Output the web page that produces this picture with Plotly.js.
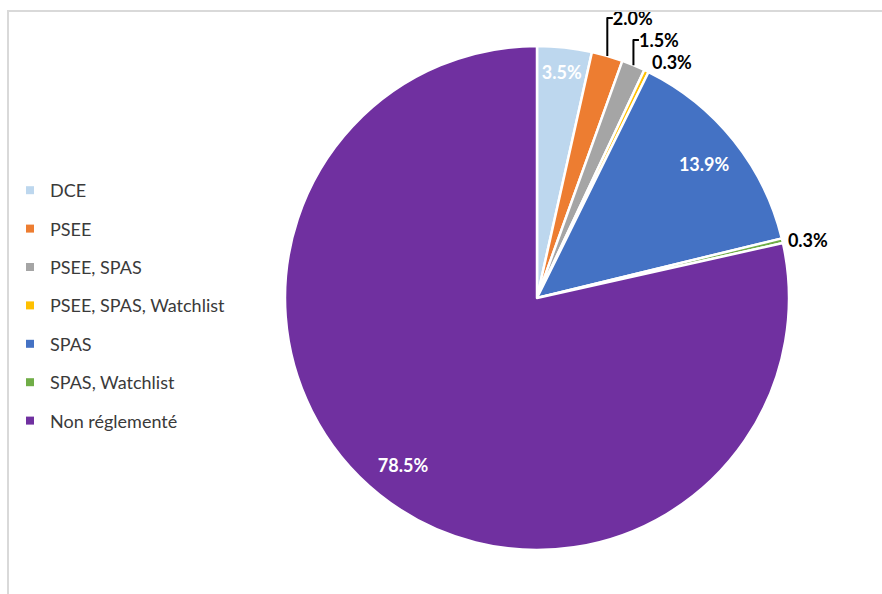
<!DOCTYPE html>
<html>
<head>
<meta charset="utf-8">
<script src="https://cdn.plot.ly/plotly-3.0.1.min.js"></script>
<style>
  html, body { margin: 0; padding: 0; background: #fff; }
  #wrap { position: relative; width: 882px; height: 594px; overflow: hidden; }
  #chart { position: absolute; left: 0; top: 0; width: 882px; height: 594px; }
  #frame { position: absolute; left: 7px; top: 10px; width: 900px; height: 700px;
           border-left: 2px solid #d9d9d9; border-top: 2px solid #d9d9d9; pointer-events: none; }
</style>
</head>
<body>
<div id="wrap">
  <div id="chart"></div>
  <div id="frame"></div>
</div>
<script>
const categories = ["DCE", "PSEE", "PSEE, SPAS", "PSEE, SPAS, Watchlist", "SPAS", "SPAS, Watchlist", "Non réglementé"];
const shares = [3.5, 2.0, 1.5, 0.3, 13.9, 0.3, 78.5];
const sliceColors = ["#BDD7EE", "#ED7D31", "#A5A5A5", "#FFC000", "#4472C4", "#70AD47", "#7030A0"];
const outsideLabels = ["none", "outside", "outside", "outside", "none", "outside", "none"];
const insideLabels = ["inside", "none", "none", "none", "inside", "none", "inside"];

const W = 882, H = 594;
const cx = 537, cy = 298, R = 252;
const dom = { x: [(cx - R) / W, (cx + R) / W], y: [1 - (cy + R) / H, 1 - (cy - R) / H] };
const labelFont = { family: "Lato", size: 18, weight: 700 };

// visible pie with the outside labels
const pie = {
  type: "pie",
  labels: categories,
  values: shares,
  sort: false,
  direction: "clockwise",
  rotation: 0,
  marker: { colors: sliceColors, line: { color: "#ffffff", width: 2.5 } },
  texttemplate: "%{percent:.1%}",
  textposition: outsideLabels,
  outsidetextfont: Object.assign({ color: "#000000" }, labelFont),
  showlegend: false,
  domain: dom
};

// transparent ring on top that carries the inside labels near the rim
const labelRing = {
  type: "pie",
  labels: categories,
  values: shares,
  sort: false,
  direction: "clockwise",
  rotation: 0,
  hole: 0.7,
  marker: { colors: categories.map(() => "rgba(0,0,0,0)"), line: { width: 0 } },
  texttemplate: "%{percent:.1%}",
  textposition: insideLabels,
  insidetextorientation: "horizontal",
  insidetextfont: Object.assign({ color: "#ffffff" }, labelFont),
  showlegend: false,
  domain: dom
};

const legendTraces = categories.map((name, i) => ({
  type: "scatter",
  mode: "markers",
  x: [null], y: [null],
  name: name,
  legendgroup: "g" + i,
  marker: { symbol: "square", size: 8, color: sliceColors[i] },
  hoverinfo: "skip"
}));

const layout = {
  width: W, height: H,
  margin: { l: 0, r: 0, t: 0, b: 0 },
  paper_bgcolor: "#ffffff",
  plot_bgcolor: "#ffffff",
  font: { family: "Lato", color: "#404040" },
  uniformtext: { minsize: 18, mode: "show" },
  xaxis: { visible: false },
  yaxis: { visible: false },
  showlegend: true,
  legend: {
    x: 10 / W, xanchor: "left",
    y: 1 - 172 / H, yanchor: "top",
    font: { family: "Lato", size: 18, color: "#3a3a3a" },
    tracegroupgap: 12,
    bgcolor: "rgba(0,0,0,0)"
  }
};

Plotly.newPlot("chart", [pie, labelRing].concat(legendTraces), layout, { displayModeBar: false, staticPlot: true });
</script>
</body>
</html>
